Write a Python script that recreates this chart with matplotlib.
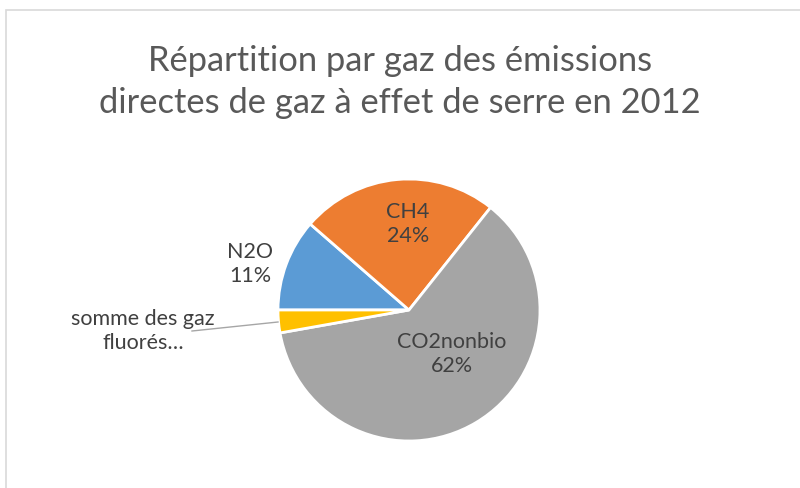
import matplotlib
matplotlib.use("Agg")
import matplotlib.pyplot as plt
from matplotlib.patches import Rectangle

# Données (ordre de la série Excel, sens horaire depuis 9 h)
gaz = ["N2O", "CH4", "CO2nonbio", "somme des gaz fluorés"]
parts = [11.4, 24.3, 61.5, 2.8]
etiquettes = ["N2O\n11%", "CH4\n24%", "CO2nonbio\n62%", "somme des gaz\nfluorés…"]
couleurs = ["#5B9BD5", "#ED7D31", "#A5A5A5", "#FFC000"]

plt.rcParams["font.family"] = ["Lato", "DejaVu Sans"]

W, H = 800, 488
fig = plt.figure(figsize=(W / 100, H / 100), dpi=100)
ax = fig.add_axes([0, 0, 1, 1])

cx, cy, r = 409, H - 310, 131
wedges, _ = ax.pie(
    parts, colors=couleurs, startangle=180, counterclock=False,
    center=(cx, cy), radius=r, frame=True,
    wedgeprops=dict(edgecolor="white", linewidth=2),
)

ax.set_xlim(0, W)
ax.set_ylim(0, H)
ax.set_aspect("equal")
ax.set_axis_off()

# cadre du graphique
ax.add_patch(Rectangle((6, -5), W, H - 10 + 5, fill=False,
                       edgecolor="#D9D9D9", linewidth=1.2, clip_on=False))

# titre
ax.text(400, H - 82, "Répartition par gaz des émissions\ndirectes de gaz à effet de serre en 2012",
        ha="center", va="center", fontsize=24.8, color="#595959", linespacing=1.38)

# étiquettes de données
txt = dict(ha="center", va="center", fontsize=15.5, color="#404040", linespacing=1.3)
ax.text(250, H - 264, etiquettes[0], **txt)
ax.text(408, H - 224, etiquettes[1], **txt)
ax.text(452, H - 354, etiquettes[2], **txt)
ax.text(143, H - 331, etiquettes[3], **txt)

# ligne de repère pour les gaz fluorés
ax.plot([192, 278], [H - 331, H - 322], color="#A6A6A6", linewidth=1)

fig.savefig("out.png", dpi=100)
